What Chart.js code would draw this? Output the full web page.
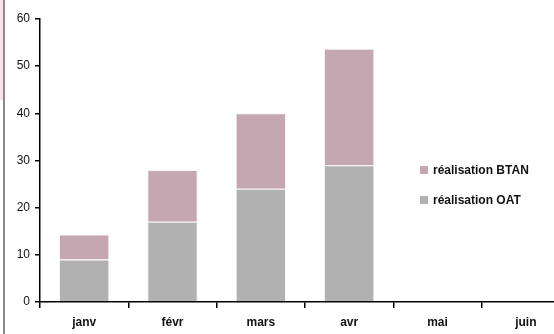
<!DOCTYPE html>
<html lang="fr">
<head>
    <meta charset="UTF-8">
    <title>Réalisation OAT / BTAN</title>
    <script src="https://cdn.jsdelivr.net/npm/chart.js"></script>
    <style>
        html, body { margin: 0; padding: 0; background: #fff; overflow: hidden; }
        .wrap { position: relative; width: 554px; height: 334px; overflow: hidden; }
        .edge { position: absolute; left: 3px; top: 0; width: 2px; height: 334px; background: #8a8a8a; }
        .edge-pink { position: absolute; left: 0; top: 0; width: 3px; height: 100px; background: #f7e4ea; }
        canvas { position: absolute; left: 0; top: 0; }
        .legend { position: absolute; left: 420px; top: 163px; font: bold 12px 'Liberation Sans', Arial, sans-serif; color: #111; }
        .legend div { height: 30px; display: flex; align-items: flex-start; }
        .legend span.box { display: inline-block; width: 8px; height: 8px; margin: 3px 5px 0 0; }
    </style>
</head>
<body>
    <div class="wrap">
        <div class="edge-pink"></div>
        <div class="edge"></div>
        <canvas id="chart" width="570" height="334"></canvas>
        <div class="legend" id="legend"></div>
    </div>

    <script>
        // values
        const months = ['janv', 'févr', 'mars', 'avr', 'mai', 'juin'];
        const oat = [9, 17, 24, 29, null, null];
        const btan = [5.3, 11, 16, 24.7, null, null];
        const yTicks = [0, 10, 20, 30, 40, 50, 60];

        const font = "'Liberation Sans', Arial, sans-serif";

        const series = [
            { label: 'réalisation OAT', data: oat, color: '#b1b1b1' },
            { label: 'réalisation BTAN', data: btan, color: '#c5a7b1' }
        ];

        const chart = new Chart(document.getElementById('chart'), {
            type: 'bar',
            data: {
                labels: months,
                datasets: series.map(s => ({
                    label: s.label,
                    data: s.data,
                    backgroundColor: s.color,
                    borderColor: '#f4f4f4',
                    borderWidth: 1,
                    categoryPercentage: 1,
                    barPercentage: 0.57
                }))
            },
            options: {
                responsive: false,
                animation: false,
                layout: { padding: { top: 19, right: 0, left: 0, bottom: 0 } },
                plugins: { legend: { display: false }, tooltip: { enabled: false } },
                scales: {
                    x: {
                        stacked: true,
                        offset: true,
                        border: { color: '#000', width: 1.5 },
                        grid: { display: true, offset: true, drawOnChartArea: false, color: '#000', lineWidth: 1.5, tickLength: 6 },
                        ticks: { color: '#111', font: { family: font, size: 12, weight: 'bold' }, padding: 7 },
                        afterFit: s => { s.height = 32; }
                    },
                    y: {
                        stacked: true,
                        min: 0,
                        max: 60,
                        afterBuildTicks: s => { s.ticks = yTicks.map(v => ({ value: v })); },
                        border: { color: '#000', width: 1.5 },
                        grid: { display: true, drawOnChartArea: false, color: '#000', lineWidth: 1.5, tickLength: 5 },
                        ticks: { color: '#111', font: { family: font, size: 12 }, padding: 5 },
                        afterFit: s => { s.width = 40; }
                    }
                }
            }
        });

        // legend: BTAN above OAT, like the original
        const legend = document.getElementById('legend');
        series.slice().reverse().forEach(s => {
            const row = document.createElement('div');
            row.innerHTML = '<span class="box" style="background:' + s.color + '"></span>' + s.label;
            legend.appendChild(row);
        });
    </script>
</body>
</html>
